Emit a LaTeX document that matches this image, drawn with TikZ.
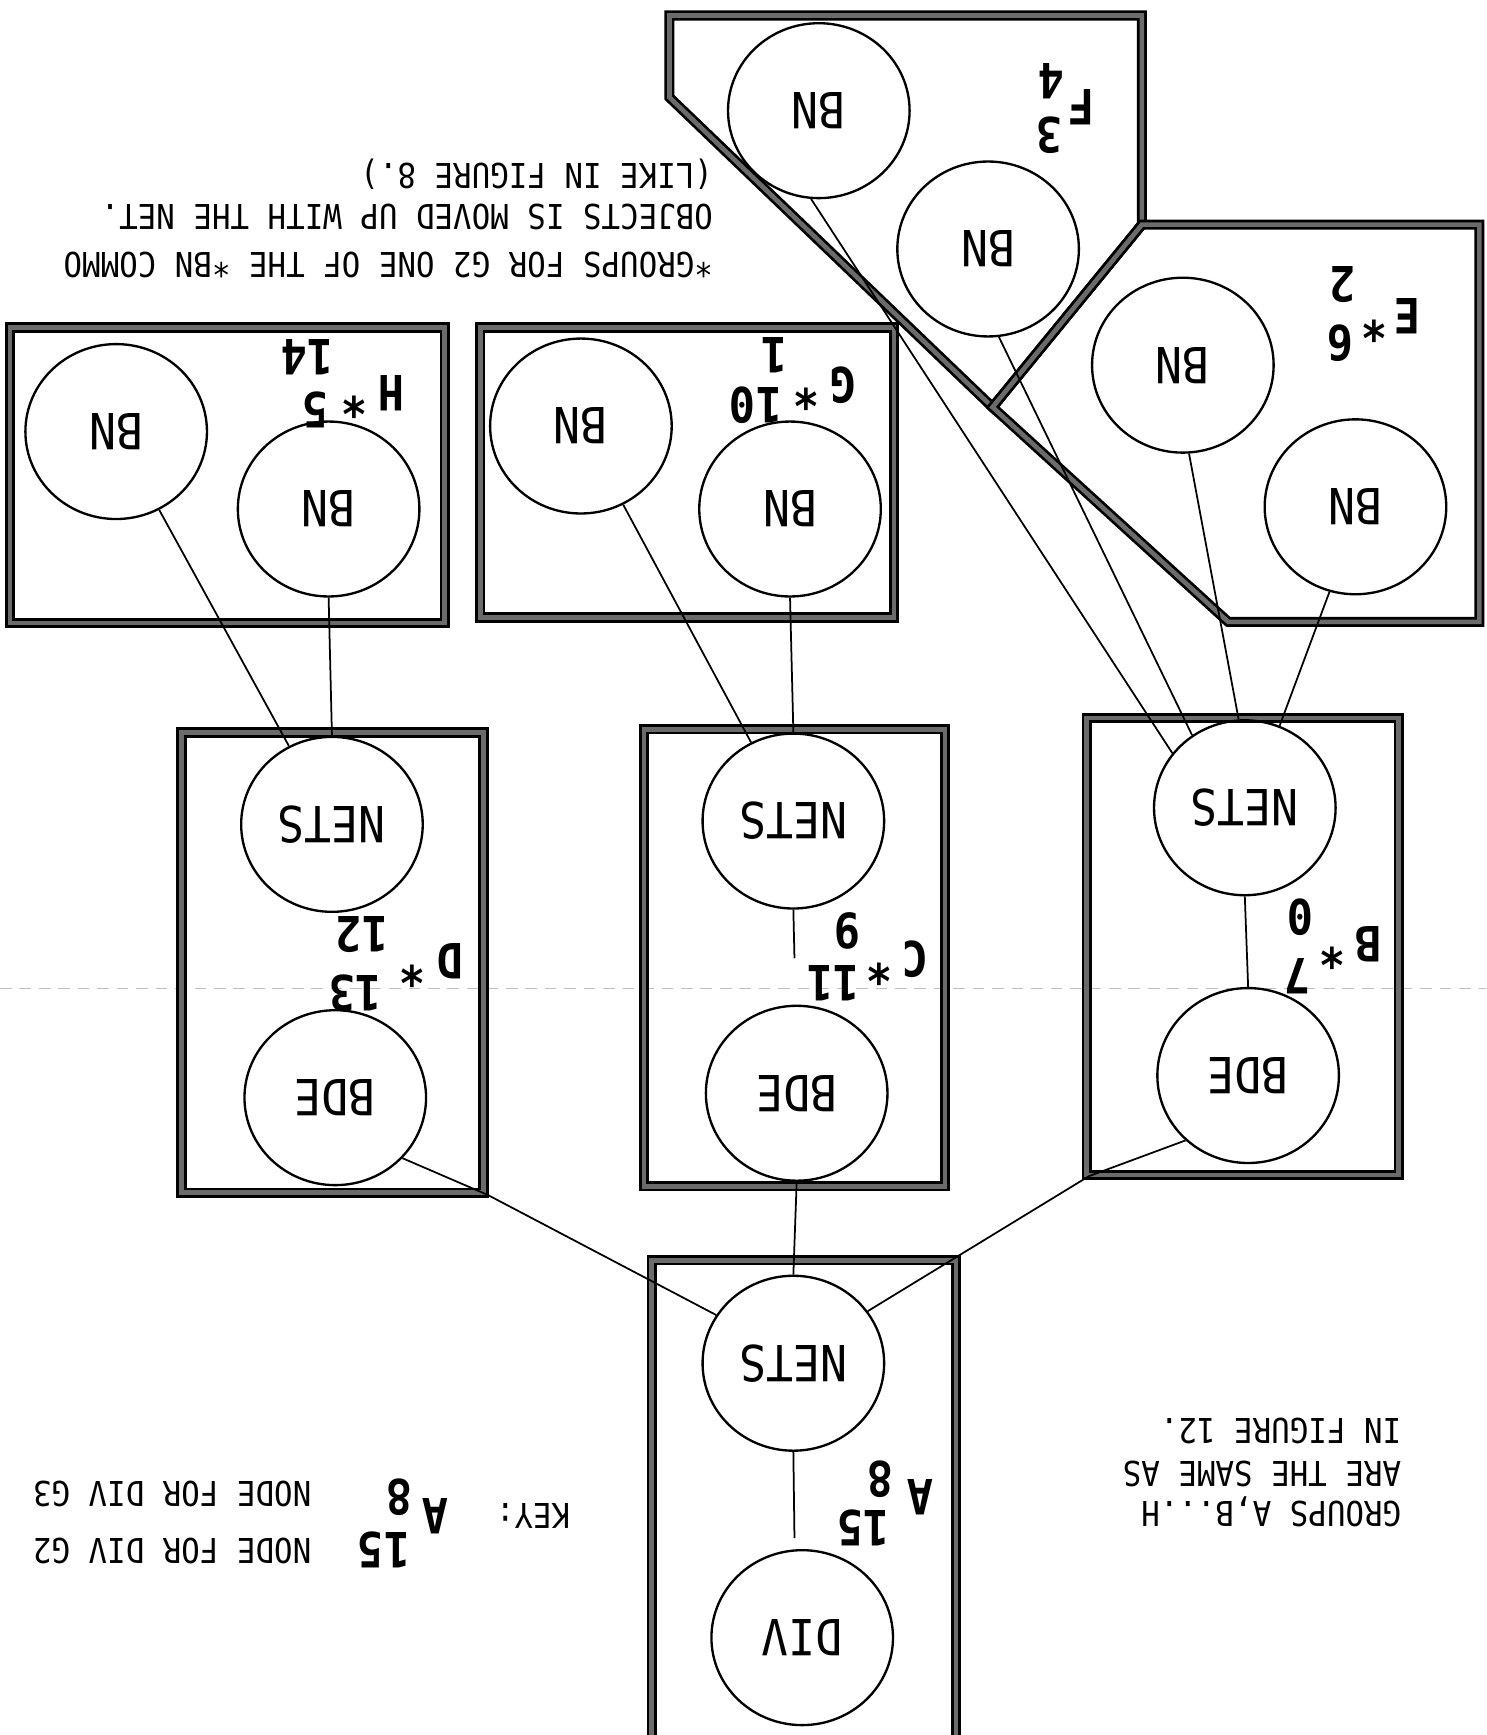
\documentclass[tikz,border=0pt]{standalone}
\usepackage{fontspec}
\newfontfamily\plotfont[FakeStretch=0.9]{DejaVu Sans Mono}
\usetikzlibrary{shapes.geometric}
\newcommand{\flipit}[1]{\rotatebox{180}{#1}}
\tikzset{
  circ/.style={ellipse, draw, line width=0.6pt, minimum width=1.64cm, minimum height=1.58cm, inner sep=0pt,
    font=\plotfont\fontsize{12.8}{14}\selectfont},
  conn/.style={line width=0.45pt},
  boxst/.style={draw=black, line width=0.7pt, double=black!58, double distance=1.2pt, line join=miter},
  lab/.style={font=\plotfont\bfseries\fontsize{12.5}{14}\selectfont, rotate=180, inner sep=0pt},
  txt/.style={font=\plotfont\fontsize{8.8}{10}\selectfont, rotate=180, inner sep=0pt, anchor=base west},
  fold/.style={draw=black!25, line width=0.3pt, dash pattern=on 3pt off 2pt}
}
\begin{document}
\begin{tikzpicture}[x=0.01cm,y=-0.01cm]
\useasboundingbox (0,0) rectangle (1343,1568);
\fill[white] (0,0) rectangle (1343,1568);
% faint fold line
\draw[fold] (0,893) -- (1343,893);

% boxes
\draw[boxst] (9,296) rectangle (402,563);
\draw[boxst] (434,296) rectangle (808,558);
\draw[boxst] (605,14) -- (1032,14) -- (1032,203) -- (897,368) -- (605,88) -- cycle;
\draw[boxst] (1032,203) -- (1337,203) -- (1337,562) -- (1110,562) -- (897,368) -- cycle;
\draw[boxst] (164,662) rectangle (437,1078);
\draw[boxst] (582,659) rectangle (854,1072);
\draw[boxst] (982,649) rectangle (1264,1062);
\draw[boxst] (589,1575) -- (589,1139) -- (864,1139) -- (864,1575);

% circles
\node[circ] (h1) at (105,390) {\flipit{BN}};
\node[circ] (h2) at (297,460) {\flipit{BN}};
\node[circ] (g1) at (525,385) {\flipit{BN}};
\node[circ] (g2) at (714,460) {\flipit{BN}};
\node[circ] (f1) at (740,100) {\flipit{BN}};
\node[circ] (f2) at (893,225) {\flipit{BN}};
\node[circ] (e1) at (1069,330) {\flipit{BN}};
\node[circ] (e2) at (1225,458) {\flipit{BN}};
\node[circ] (nd) at (300,745) {\flipit{NETS}};
\node[circ] (nc) at (717,742) {\flipit{NETS}};
\node[circ] (nb) at (1125,730) {\flipit{NETS}};
\node[circ] (bd) at (303,992) {\flipit{BDE}};
\node[circ] (bc) at (720,988) {\flipit{BDE}};
\node[circ] (bb) at (1128,972) {\flipit{BDE}};
\node[circ] (na) at (717,1232) {\flipit{NETS}};
\node[circ] (dv) at (725,1480) {\flipit{DIV}};

% connector helper coordinates
\coordinate (cend) at (718,866);
\coordinate (aend) at (718,1390);
\coordinate (kd) at (441,1080);
\coordinate (kb) at (984,1063);

% connectors
\draw[conn] (h1) -- (nd);
\draw[conn] (h2.-90) -- (nd.90);
\draw[conn] (g1) -- (nc);
\draw[conn] (g2.-90) -- (nc.90);
\draw[conn] (f1.-95) -- (nb.143);
\draw[conn] (f2.-83) -- (nb.126);
\draw[conn] (e1.-86) -- (nb.94);
\draw[conn] (e2.-107) -- (nb.67);
\draw[conn] (nc.-90) -- (cend);
\draw[conn] (nb.-90) -- (bb.90);
\draw[conn] (bc.-90) -- (na.90);
\draw[conn] (na.-90) -- (aend);
\draw[conn] (bd.-42) -- (kd) -- (na.148);
\draw[conn] (bb.-134) -- (kb) -- (na.35);

% group labels
\node[lab] (lh) at (354,355) {H};
\node[lab] (lhs) at (320,362) {*};
\node[lab] (lhp) at (285,370) {5};
\node[lab] (lhb) at (278,323) {14};

\node[lab] (lg) at (762,348) {G};
\node[lab] (lgs) at (729,355) {*};
\node[lab] (lgp) at (683,366) {10};
\node[lab] (lgb) at (700,321) {1};

\node[lab] (lf) at (977,97) {F};
\node[lab] (lfp) at (948,122) {3};
\node[lab] (lfb) at (950,73) {4};

\node[lab] (le) at (1272,286) {E};
\node[lab] (les) at (1242,293) {*};
\node[lab] (lep) at (1211,310) {6};
\node[lab] (leb) at (1213,257) {2};

\node[lab] (ld) at (407,869) {D};
\node[lab] (lds) at (373,876) {*};
\node[lab] (ldp) at (321,898) {13};
\node[lab] (ldb) at (327,845) {12};

\node[lab] (lc) at (827,867) {C};
\node[lab] (lcs) at (795,874) {*};
\node[lab] (lcp) at (753,889) {11};
\node[lab] (lcb) at (766,841) {9};

\node[lab] (lb) at (1237,853) {B};
\node[lab] (lbs) at (1204,860) {*};
\node[lab] (lbp) at (1172,882) {7};
\node[lab] (lbb) at (1175,829) {0};

\node[lab] (la) at (832,1353) {A};
\node[lab] (lap) at (780,1381) {15};
\node[lab] (lab8) at (796,1337) {8};

% key
\node[lab] (ka) at (393,1370) {A};
\node[lab] (kap) at (347,1401) {15};
\node[lab] (kab) at (361,1353) {8};
\node[txt] (key) at (516,1359) {KEY:};
\node[txt] (k3) at (282,1339) {NODE FOR DIV G3};
\node[txt] (k2) at (282,1390) {NODE FOR DIV G2};

% notes
\node[txt] (n1) at (645,228) {*GROUPS FOR G2 ONE OF THE *BN COMMO};
\node[txt] (n2) at (645,185) {OBJECTS IS MOVED UP WITH THE NET.};
\node[txt] (n3) at (645,148) {(LIKE IN FIGURE 8.)};

\node[txt] (r1) at (1267,1357) {GROUPS A,B...H};
\node[txt] (r2) at (1267,1321) {ARE THE SAME AS};
\node[txt] (r3) at (1267,1282) {IN FIGURE 12.};
\end{tikzpicture}
\end{document}
